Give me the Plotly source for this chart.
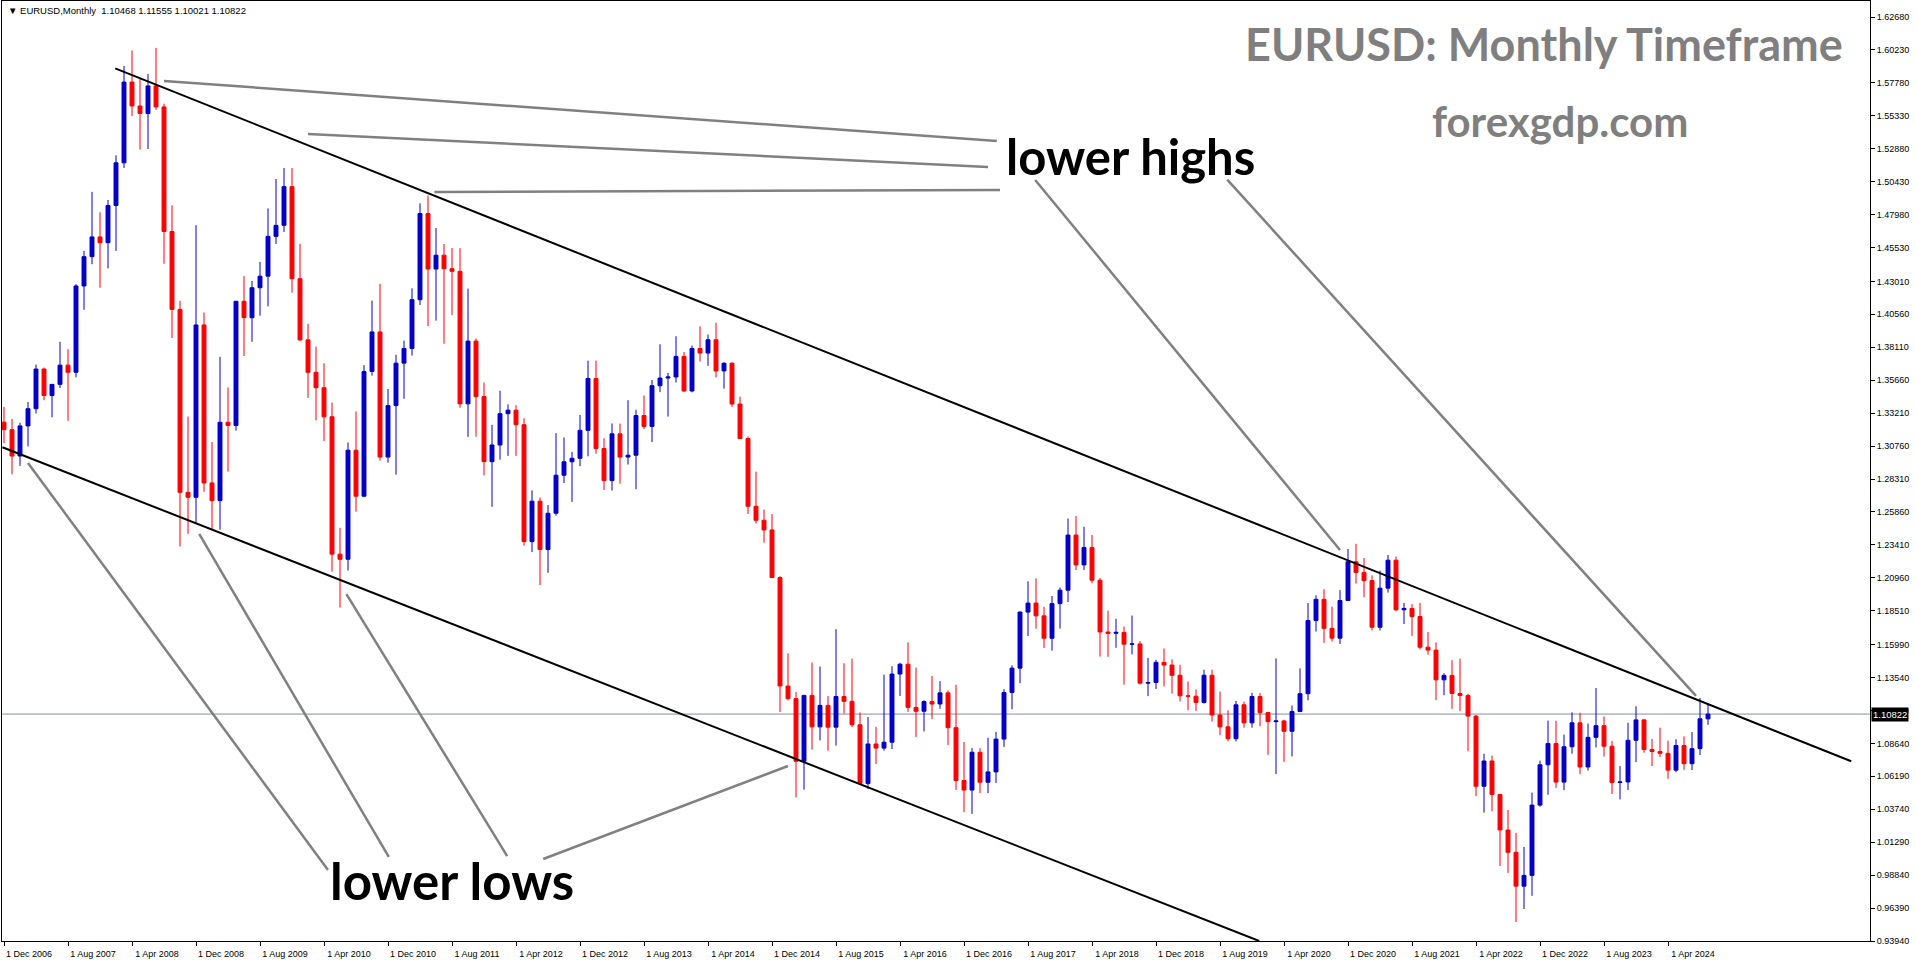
import plotly.graph_objects as go

# ---------------- data (EURUSD monthly, Dec 2006 .. Sep 2024) ----------------
START_YEAR, START_MONTH = 2006, 12

OPEN = [
    1.3254,
    1.3198, 1.3002, 1.3226, 1.3354, 1.3649, 1.3452, 1.3535, 1.3678, 1.3625, 1.4267, 1.4485, 1.4632,
    1.4589, 1.4866, 1.5183, 1.5784, 1.5606, 1.5550, 1.5755, 1.5599, 1.4672, 1.4093, 1.2732, 1.2695,
    1.3977, 1.2802, 1.2670, 1.3253, 1.3229, 1.4153, 1.4031, 1.4254, 1.4340, 1.4636, 1.4718, 1.5006,
    1.4321, 1.3866, 1.3625, 1.3510, 1.3294, 1.2272, 1.2234, 1.3045, 1.2703, 1.3631, 1.3925, 1.2994,
    1.3377, 1.3693, 1.3802, 1.4165, 1.4806, 1.4393, 1.4496, 1.4395, 1.4376, 1.3390, 1.3857, 1.3444,
    1.2960, 1.3084, 1.3317, 1.3343, 1.3235, 1.2365, 1.2666, 1.2306, 1.2576, 1.2859, 1.2959, 1.2985,
    1.3193, 1.3579, 1.3058, 1.2819, 1.3167, 1.2994, 1.3008, 1.3303, 1.3222, 1.3525, 1.3582, 1.3590,
    1.3743, 1.3486, 1.3802, 1.3768, 1.3867, 1.3635, 1.3692, 1.3389, 1.3132, 1.2628, 1.2524, 1.2452,
    1.2098, 1.1291, 1.1197, 1.0731, 1.1221, 1.0987, 1.1147, 1.0985, 1.1213, 1.1177, 1.1003, 1.0565,
    1.0860, 1.0829, 1.0873, 1.1380, 1.1453, 1.1132, 1.1103, 1.1175, 1.1157, 1.1240, 1.0981, 1.0588,
    1.0517, 1.0798, 1.0575, 1.0652, 1.0896, 1.1243, 1.1424, 1.1841, 1.1908, 1.1813, 1.1646, 1.1904,
    1.2004, 1.2414, 1.2192, 1.2322, 1.2078, 1.1693, 1.1683, 1.1690, 1.1602, 1.1604, 1.1312, 1.1317,
    1.1467, 1.1447, 1.1371, 1.1218, 1.1215, 1.1169, 1.1371, 1.1075, 1.0987, 1.0899, 1.1151, 1.1017,
    1.1213, 1.1093, 1.1026, 1.1031, 1.0954, 1.1101, 1.1234, 1.1778, 1.1936, 1.1720, 1.1647, 1.1927,
    1.2215, 1.2136, 1.2075, 1.1728, 1.2019, 1.2227, 1.1858, 1.1868, 1.1808, 1.1580, 1.1558, 1.1337,
    1.1370, 1.1235, 1.1220, 1.1067, 1.0545, 1.0733, 1.0484, 1.0220, 1.0054, 0.9802, 0.9882, 1.0405,
    1.0705, 1.0863, 1.0576, 1.0839, 1.1017, 1.0689, 1.0909, 1.0996, 1.0843, 1.0573, 1.0577, 1.0887,
    1.1039, 1.0818, 1.0804, 1.0790, 1.0665, 1.0848, 1.0713, 1.0825, 1.10468,
]
HIGH = [
    1.3367,
    1.3277, 1.3249, 1.3403, 1.3682, 1.3660, 1.3535, 1.3852, 1.3797, 1.4280, 1.4528, 1.4967, 1.4815,
    1.4907, 1.5239, 1.5904, 1.6019, 1.5815, 1.5844, 1.6038, 1.5623, 1.4867, 1.4156, 1.3296, 1.4719,
    1.4069, 1.3106, 1.3740, 1.3512, 1.4155, 1.4340, 1.4305, 1.4446, 1.4844, 1.5063, 1.5145, 1.5144,
    1.4580, 1.3986, 1.3816, 1.3693, 1.3399, 1.2468, 1.3103, 1.3334, 1.3678, 1.4158, 1.4283, 1.3500,
    1.3755, 1.3861, 1.4249, 1.4882, 1.4940, 1.4699, 1.4579, 1.4549, 1.4548, 1.4247, 1.3876, 1.3549,
    1.3234, 1.3487, 1.3386, 1.3380, 1.3283, 1.2746, 1.2693, 1.2637, 1.3172, 1.3140, 1.3033, 1.3308,
    1.3711, 1.3711, 1.3134, 1.3244, 1.3243, 1.3417, 1.3346, 1.3452, 1.3568, 1.3833, 1.3620, 1.3893,
    1.3775, 1.3824, 1.3967, 1.3906, 1.3993, 1.3700, 1.3700, 1.3444, 1.3148, 1.2886, 1.2603, 1.2570,
    1.2108, 1.1534, 1.1246, 1.1225, 1.1466, 1.1436, 1.1216, 1.1714, 1.1460, 1.1495, 1.1094, 1.1060,
    1.0987, 1.1376, 1.1438, 1.1464, 1.1616, 1.1428, 1.1185, 1.1366, 1.1327, 1.1258, 1.1300, 1.0874,
    1.0829, 1.0829, 1.0906, 1.0950, 1.1268, 1.1445, 1.1846, 1.2070, 1.2092, 1.1880, 1.1961, 1.2023,
    1.2537, 1.2555, 1.2476, 1.2414, 1.2095, 1.1852, 1.1791, 1.1734, 1.1815, 1.1625, 1.1500, 1.1486,
    1.1570, 1.1489, 1.1448, 1.1324, 1.1265, 1.1412, 1.1412, 1.1250, 1.1110, 1.1180, 1.1175, 1.1240,
    1.1239, 1.1096, 1.1496, 1.1040, 1.1146, 1.1422, 1.1908, 1.1966, 1.2011, 1.1881, 1.2004, 1.2310,
    1.2349, 1.2243, 1.2114, 1.2150, 1.2266, 1.2254, 1.1909, 1.1900, 1.1909, 1.1692, 1.1616, 1.1386,
    1.1483, 1.1495, 1.1233, 1.1076, 1.0787, 1.0773, 1.0487, 1.0369, 1.0198, 1.0094, 1.0497, 1.0736,
    1.1033, 1.1032, 1.0930, 1.1095, 1.1092, 1.1012, 1.1276, 1.1065, 1.0882, 1.0695, 1.1017, 1.1140,
    1.1046, 1.0897, 1.0981, 1.0885, 1.0895, 1.0916, 1.0948, 1.1202, 1.11555,
]
LOW = [
    1.3097,
    1.2866, 1.2929, 1.3073, 1.3318, 1.3417, 1.3290, 1.3508, 1.3263, 1.3587, 1.4090, 1.4429, 1.4254,
    1.4398, 1.4528, 1.5145, 1.5532, 1.5282, 1.5286, 1.5577, 1.4432, 1.3880, 1.2329, 1.2423, 1.2504,
    1.2736, 1.2456, 1.2454, 1.2886, 1.3191, 1.3746, 1.3852, 1.4046, 1.4115, 1.4580, 1.4669, 1.4217,
    1.3857, 1.3434, 1.3267, 1.3113, 1.2142, 1.1876, 1.2150, 1.2588, 1.2696, 1.3600, 1.2968, 1.2953,
    1.2863, 1.3428, 1.3749, 1.4125, 1.3968, 1.4009, 1.3837, 1.4051, 1.3361, 1.3145, 1.3145, 1.2858,
    1.2624, 1.2975, 1.3003, 1.3003, 1.2335, 1.2287, 1.2042, 1.2133, 1.2558, 1.2801, 1.2661, 1.2926,
    1.3000, 1.3019, 1.2750, 1.2745, 1.2796, 1.2939, 1.2755, 1.3203, 1.3105, 1.3477, 1.3295, 1.3549,
    1.3479, 1.3476, 1.3705, 1.3673, 1.3587, 1.3503, 1.3367, 1.3130, 1.2571, 1.2500, 1.2357, 1.2097,
    1.1098, 1.1185, 1.0462, 1.0520, 1.0818, 1.0886, 1.0809, 1.0848, 1.1087, 1.0985, 1.0557, 1.0524,
    1.0710, 1.0810, 1.0822, 1.1217, 1.1098, 1.0912, 1.0952, 1.1046, 1.1122, 1.0852, 1.0518, 1.0352,
    1.0340, 1.0494, 1.0494, 1.0570, 1.0838, 1.1118, 1.1312, 1.1662, 1.1717, 1.1574, 1.1554, 1.1718,
    1.1916, 1.2153, 1.2155, 1.2055, 1.1510, 1.1508, 1.1575, 1.1301, 1.1526, 1.1302, 1.1216, 1.1269,
    1.1289, 1.1234, 1.1176, 1.1111, 1.1106, 1.1160, 1.1027, 1.0926, 1.0879, 1.0879, 1.0981, 1.0981,
    1.0992, 1.0778, 1.0636, 1.0727, 1.0767, 1.1097, 1.1185, 1.1696, 1.1612, 1.1622, 1.1603, 1.1923,
    1.2054, 1.1951, 1.1704, 1.1704, 1.1986, 1.1847, 1.1752, 1.1664, 1.1563, 1.1524, 1.1186, 1.1222,
    1.1121, 1.1106, 1.0806, 1.0471, 1.0349, 1.0359, 0.9952, 0.9900, 0.9535, 0.9632, 0.9730, 1.0393,
    1.0482, 1.0533, 1.0516, 1.0788, 1.0635, 1.0662, 1.0834, 1.0766, 1.0488, 1.0448, 1.0517, 1.0724,
    1.0795, 1.0695, 1.0762, 1.0601, 1.0650, 1.0668, 1.0666, 1.0778, 1.10021,
]
CLOSE = [
    1.3198,
    1.3002, 1.3226, 1.3354, 1.3649, 1.3452, 1.3535, 1.3678, 1.3625, 1.4267, 1.4485, 1.4632, 1.4589,
    1.4866, 1.5183, 1.5784, 1.5606, 1.5550, 1.5755, 1.5599, 1.4672, 1.4093, 1.2732, 1.2695, 1.3977,
    1.2802, 1.2670, 1.3253, 1.3229, 1.4153, 1.4031, 1.4254, 1.4340, 1.4636, 1.4718, 1.5006, 1.4321,
    1.3866, 1.3625, 1.3510, 1.3294, 1.2272, 1.2234, 1.3045, 1.2703, 1.3631, 1.3925, 1.2994, 1.3377,
    1.3693, 1.3802, 1.4165, 1.4806, 1.4393, 1.4496, 1.4395, 1.4376, 1.3390, 1.3857, 1.3444, 1.2960,
    1.3084, 1.3317, 1.3343, 1.3235, 1.2365, 1.2666, 1.2306, 1.2576, 1.2859, 1.2959, 1.2985, 1.3193,
    1.3579, 1.3058, 1.2819, 1.3167, 1.2994, 1.3008, 1.3303, 1.3222, 1.3525, 1.3582, 1.3590, 1.3743,
    1.3486, 1.3802, 1.3768, 1.3867, 1.3635, 1.3692, 1.3389, 1.3132, 1.2628, 1.2524, 1.2452, 1.2098,
    1.1291, 1.1197, 1.0731, 1.1221, 1.0987, 1.1147, 1.0985, 1.1213, 1.1177, 1.1003, 1.0565, 1.0860,
    1.0829, 1.0873, 1.1380, 1.1453, 1.1132, 1.1103, 1.1175, 1.1157, 1.1240, 1.0981, 1.0588, 1.0517,
    1.0798, 1.0575, 1.0652, 1.0896, 1.1243, 1.1424, 1.1841, 1.1908, 1.1813, 1.1646, 1.1904, 1.2004,
    1.2414, 1.2192, 1.2322, 1.2078, 1.1693, 1.1683, 1.1690, 1.1602, 1.1604, 1.1312, 1.1317, 1.1467,
    1.1447, 1.1371, 1.1218, 1.1215, 1.1169, 1.1371, 1.1075, 1.0987, 1.0899, 1.1151, 1.1017, 1.1213,
    1.1093, 1.1026, 1.1031, 1.0954, 1.1101, 1.1234, 1.1778, 1.1936, 1.1720, 1.1647, 1.1927, 1.2215,
    1.2136, 1.2075, 1.1728, 1.2019, 1.2227, 1.1858, 1.1868, 1.1808, 1.1580, 1.1558, 1.1337, 1.1370,
    1.1235, 1.1220, 1.1067, 1.0545, 1.0733, 1.0484, 1.0220, 1.0054, 0.9802, 0.9882, 1.0405, 1.0705,
    1.0863, 1.0576, 1.0839, 1.1017, 1.0689, 1.0909, 1.0996, 1.0843, 1.0573, 1.0577, 1.0887, 1.1039,
    1.0818, 1.0804, 1.0790, 1.0665, 1.0848, 1.0713, 1.0825, 1.1047, 1.10822,
]

LAST_PRICE = 1.10822
HEADER = "EURUSD,Monthly  1.10468 1.11555 1.10021 1.10822"

X_TICK_LABELS = [
    "1 Dec 2006", "1 Aug 2007", "1 Apr 2008", "1 Dec 2008", "1 Aug 2009", "1 Apr 2010",
    "1 Dec 2010", "1 Aug 2011", "1 Apr 2012", "1 Dec 2012", "1 Aug 2013", "1 Apr 2014",
    "1 Dec 2014", "1 Aug 2015", "1 Apr 2016", "1 Dec 2016", "1 Aug 2017", "1 Apr 2018",
    "1 Dec 2018", "1 Aug 2019", "1 Apr 2020", "1 Dec 2020", "1 Aug 2021", "1 Apr 2022",
    "1 Dec 2022", "1 Aug 2023", "1 Apr 2024",
]
X_TICK_EVERY = 8  # bars between date labels

Y_TICK_LABELS = [
    "1.62680", "1.60230", "1.57780", "1.55330", "1.52880", "1.50430", "1.47980", "1.45530",
    "1.43010", "1.40560", "1.38110", "1.35660", "1.33210", "1.30760", "1.28310", "1.25860",
    "1.23410", "1.20960", "1.18510", "1.15990", "1.13540", "1.11090", "1.08640", "1.06190",
    "1.03740", "1.01290", "0.98840", "0.96390", "0.93940",
]

# trend lines drawn on the chart: (bar index, price) pairs
CHANNEL_LINES = [
    ((13.9, 1.5886), (230.9, 1.0731)),   # upper channel
    ((-0.2, 1.3067), (156.9, 0.9394)),   # lower channel
]
HIGH_LINES = [
    ((20.0, 1.5792), (124.1, 1.5346)),
    ((38.0, 1.5398), (123.0, 1.5152)),
    ((53.8, 1.4966), (124.5, 1.4981)),
    ((128.9, 1.5055), (167.0, 1.2303)),
    ((152.9, 1.5058), (211.5, 1.1217)),
]
LOW_LINES = [
    ((3.0, 1.2950), (40.5, 0.9922)),
    ((24.4, 1.2422), (48.1, 1.0019)),
    ((42.8, 1.1975), (62.9, 1.0026)),
    ((67.4, 1.0004), (98.0, 1.0696)),
]

# ---------------- styling ----------------
BULL = "#0000CD"
BEAR = "#FF0000"
GRAY = "#808080"
W, H = 1916, 964
ML, MR, MT, MB = 2, 46, 1, 23
PW, PH = W - ML - MR, H - MT - MB
TICK_FONT = dict(family="Liberation Sans, Arial, sans-serif", size=9, color="black")


def paper(px, py):
    """Pixel position on the page -> paper coordinates."""
    return (px - ML) / PW, (H - MB - py) / PH


n = len(CLOSE)
idx = list(range(n))

fig = go.Figure(
    go.Candlestick(
        x=idx, open=OPEN, high=HIGH, low=LOW, close=CLOSE,
        increasing=dict(line=dict(color=BULL, width=1), fillcolor=BULL),
        decreasing=dict(line=dict(color=BEAR, width=1), fillcolor=BEAR),
        whiskerwidth=0, showlegend=False, hoverinfo="skip",
    )
)

shapes = []
# current price line
shapes.append(dict(type="line", xref="paper", yref="y", x0=0, x1=1, y0=LAST_PRICE, y1=LAST_PRICE,
                   line=dict(color="#8090a0", width=1), layer="below"))
for (x0, y0), (x1, y1) in CHANNEL_LINES:
    shapes.append(dict(type="line", xref="x", yref="y", x0=x0, y0=y0, x1=x1, y1=y1,
                       line=dict(color="black", width=2)))
for (x0, y0), (x1, y1) in HIGH_LINES + LOW_LINES:
    shapes.append(dict(type="line", xref="x", yref="y", x0=x0, y0=y0, x1=x1, y1=y1,
                       line=dict(color=GRAY, width=2.5)))

annotations = []


def add_text(text, px, py, size, color, family, weight="bold", xanchor="center"):
    xp, yp = paper(px, py)
    annotations.append(dict(text=text, x=xp, y=yp, xref="paper", yref="paper",
                            xanchor=xanchor, yanchor="middle", showarrow=False,
                            font=dict(family=family, size=size, color=color, weight=weight)))


add_text("EURUSD: Monthly Timeframe", 1544, 44, 45, "#7f7f7f", "Lato")
add_text("forexgdp.com", 1560, 121, 42, "#7f7f7f", "Lato")
add_text("lower highs", 1130, 156, 49, "black", "Lato")
add_text("lower lows", 452, 880, 51, "black", "Lato")
add_text("\u25bc " + HEADER, 6, 11, 9.5, "black", "Liberation Sans, Arial, sans-serif",
         weight="normal", xanchor="left")

# last price label on the price scale
annotations.append(dict(text=f"{LAST_PRICE:.5f}", x=1, y=LAST_PRICE, xref="paper", yref="y",
                        xanchor="left", yanchor="middle", xshift=1, showarrow=False,
                        bgcolor="black", borderpad=1,
                        font=dict(family="Liberation Sans, Arial, sans-serif", size=9.5, color="white")))

fig.update_layout(
    width=W, height=H,
    margin=dict(l=ML, r=MR, t=MT, b=MB, pad=0),
    paper_bgcolor="white", plot_bgcolor="white",
    showlegend=False,
    shapes=shapes, annotations=annotations,
    xaxis=dict(
        range=[-0.25, 233.25], rangeslider=dict(visible=False),
        tickvals=[i * X_TICK_EVERY for i in range(len(X_TICK_LABELS))],
        ticktext=X_TICK_LABELS, ticklabelshift=25,
        ticks="outside", ticklen=4, tickcolor="black", tickwidth=1,
        showgrid=False, zeroline=False, showline=True, linecolor="black", linewidth=1,
        mirror=True, tickfont=TICK_FONT, fixedrange=True,
    ),
    yaxis=dict(
        side="right", range=[0.9394, 1.6387],
        tickvals=[float(v) for v in Y_TICK_LABELS], ticktext=Y_TICK_LABELS,
        ticks="outside", ticklen=4, tickcolor="black", tickwidth=1,
        showgrid=False, zeroline=False, showline=True, linecolor="black", linewidth=1,
        mirror=True, tickfont=TICK_FONT, fixedrange=True,
    ),
)

fig.write_html("out.html")
